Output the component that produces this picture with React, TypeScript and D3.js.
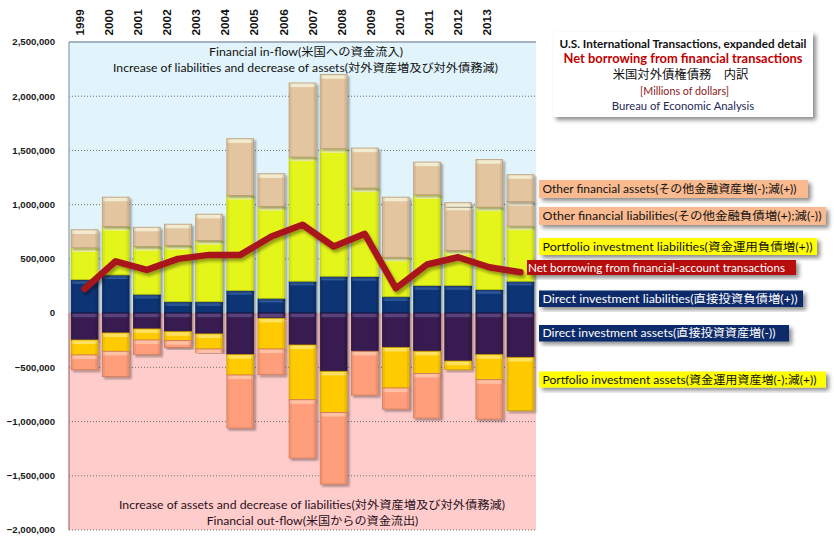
import React from "react";
import * as d3 from "d3";

const years = ["1999","2000","2001","2002","2003","2004","2005","2006","2007","2008","2009","2010","2011","2012","2013"];
// Millions of dollars
const directLiab = [309000,353000,174000,106000,106000,208000,137000,294000,340000,337000,152000,254000,254000,217000,294000];
const portfolioLiab = [293000,446000,440000,517000,563000,877000,846000,1145000,1176000,816000,363000,837000,323000,760000,508000];
const otherLiab = [166000,270000,178000,197000,243000,523000,302000,683000,683000,-404000,-194000,302000,409000,438000,225000];
const otherAssets = [-136000,-234000,-135000,-62000,-34000,-489000,-237000,-538000,-661000,369000,554000,-412000,32000,-363000,249000];
const directAssets = [-248000,-183000,-146000,-171000,-192000,-383000,-48000,-294000,-537000,-352000,-316000,-352000,-442000,-383000,-408000];
const portfolioAssets = [-138000,-169000,-102000,-83000,-139000,-188000,-283000,-505000,-379000,0,-375000,-204000,-80000,-231000,-492000];
const netBorrowing = [223000,478000,399000,500000,537000,537000,706000,815000,614000,731000,229000,448000,515000,423000,377000];
const yTicks = [2500000,2000000,1500000,1000000,500000,0,-500000,-1000000,-1500000,-2000000];

const W = 834, H = 546;
const L = 69, R = 536, T = 42, B = 530;

const COLORS: Record<string, [string, string, string]> = {
  navy: ["#0C3474", "#3566AE", "#08254F"],
  lime: ["#E4F51C", "#F6FBB8", "#B9C70F"],
  tan: ["#E3C5A0", "#F2EFD6", "#B89B78"],
  purple: ["#391E51", "#5E4780", "#261335"],
  gold: ["#FFCB00", "#FFE36A", "#C99F00"],
  salmon: ["#FF9E7A", "#FFC4A8", "#CC7A5C"],
};

const FONT = "Lato, 'Noto Sans CJK JP', sans-serif";

export default function App() {
  const x = d3.scaleBand<string>().domain(years).range([L, R]).paddingInner(0.14).paddingOuter(0.07);
  const xl = d3.scaleBand<string>().domain(years).range([65.5, 501]);
  const y = d3.scaleLinear().domain([-2000000, 2500000]).range([B, T]);

  type Seg = { year: string; y0: number; y1: number; color: string };
  const segs: Seg[] = [];
  years.forEach((yr, i) => {
    let pos = 0;
    const posList: [number, string][] = [
      [directLiab[i], "navy"], [portfolioLiab[i], "lime"], [otherLiab[i], "tan"], [otherAssets[i], "tan"],
      [portfolioAssets[i], "gold"], [directAssets[i], "purple"],
    ];
    posList.forEach(([v, c]) => {
      if (v > 0) { segs.push({ year: yr, y0: pos, y1: pos + v, color: c }); pos += v; }
    });
    let neg = 0;
    const negList: [number, string][] = [
      [directAssets[i], "purple"], [portfolioAssets[i], "gold"], [otherAssets[i], "salmon"], [otherLiab[i], "salmon"],
      [directLiab[i], "navy"], [portfolioLiab[i], "lime"],
    ];
    negList.forEach(([v, c]) => {
      if (v < 0) { segs.push({ year: yr, y0: neg, y1: neg + v, color: c }); neg += v; }
    });
  });

  const line = d3.line<number>().x((_, i) => (x(years[i]) as number) + x.bandwidth() / 2).y((v) => y(v));

  const legend = [
    { t: "Other financial assets(その他金融資産増(-);減(+))", bg: "#F9BA90", fg: "#111", x: 539, y: 180, w: 269, h: 18, tl: 254 },
    { t: "Other financial liabilities(その他金融負債増(+);減(-))", bg: "#F9BA90", fg: "#111", x: 539, y: 207, w: 287, h: 18, tl: 279 },
    { t: "Portfolio investment liabilities(資金運用負債増(+))", bg: "#FFFF00", fg: "#111", x: 539, y: 238, w: 278, h: 17, tl: 270 },
    { t: "Direct investment liabilities(直接投資負債増(+))", bg: "#0B2A6B", fg: "#fff", x: 539, y: 290.5, w: 264, h: 16.5, tl: 255 },
    { t: "Direct investment assets(直接投資資産増(-))", bg: "#0B2A6B", fg: "#fff", x: 539, y: 325, w: 250, h: 16.5, tl: 233 },
    { t: "Portfolio investment assets(資金運用資産増(-);減(+))", bg: "#FFFF00", fg: "#111", x: 539, y: 371.5, w: 287, h: 16, tl: 274 },
  ];

  const bw = x.bandwidth();

  return (
    <svg width={W} height={H} style={{ position: "absolute", left: 0, top: 0 }} fontFamily={FONT}>
      <defs>
        <filter id="sh" x="-20%" y="-20%" width="150%" height="150%">
          <feDropShadow dx="2" dy="2" stdDeviation="1.2" floodColor="#000" floodOpacity="0.35" />
        </filter>
        <filter id="shBox" x="-10%" y="-10%" width="130%" height="140%">
          <feDropShadow dx="3" dy="3" stdDeviation="2" floodColor="#000" floodOpacity="0.45" />
        </filter>
        <filter id="shLine" x="-10%" y="-10%" width="130%" height="140%">
          <feDropShadow dx="2" dy="3" stdDeviation="1.5" floodColor="#000" floodOpacity="0.35" />
        </filter>
      </defs>
      <rect x={0} y={0} width={W} height={H} fill="#fff" />
      {/* backgrounds */}
      <rect x={L} y={T} width={R - L} height={y(0) - T} fill="#E1F4FB" />
      <rect x={L} y={y(0)} width={R - L} height={B - y(0)} fill="#FFCCCC" />
      {/* grid */}
      {yTicks.filter((t) => t !== 0 && t !== 2500000).map((t) => (
        <line key={t} x1={L} x2={R} y1={y(t)} y2={y(t)} stroke="#707070" strokeWidth={1} strokeDasharray="1,2" />
      ))}
      <line x1={L} x2={R} y1={T} y2={T} stroke="#8C9BAE" strokeWidth={1.5} />
      <line x1={L} x2={L} y1={T} y2={y(0)} stroke="#8C9BAE" strokeWidth={1.2} />
      <line x1={L} x2={L} y1={y(0)} y2={B} stroke="#A07070" strokeWidth={1.2} />

      {/* in-plot annotations */}
      <text x={306} y={52.3} dy="0.35em" textAnchor="middle" fontSize={11.5} fill="#111" textLength={194} lengthAdjust="spacingAndGlyphs">Financial  in-flow(米国への資金流入)</text>
      <text x={305.5} y={68} dy="0.35em" textAnchor="middle" fontSize={11.5} fill="#111" textLength={385} lengthAdjust="spacingAndGlyphs">Increase of liabilities and decrease of assets(対外資産増及び対外債務減)</text>
      <text x={312} y={505} dy="0.35em" textAnchor="middle" fontSize={11.5} fill="#2A1020" textLength={386} lengthAdjust="spacingAndGlyphs">Increase of assets and decrease of liabilities(対外資産増及び対外債務減)</text>
      <text x={312.5} y={520.7} dy="0.35em" textAnchor="middle" fontSize={11.5} fill="#2A1020" textLength={211.6} lengthAdjust="spacingAndGlyphs">Financial  out-flow(米国からの資金流出)</text>

      {/* bars */}
      <g>
        {segs.map((s, k) => {
          const top = Math.min(y(s.y0), y(s.y1));
          const h = Math.abs(y(s.y0) - y(s.y1));
          const c = COLORS[s.color];
          const bx = x(s.year) as number;
          return (
            <g key={k}>
              <rect x={bx} y={top} width={bw} height={h} fill={c[0]} stroke={c[2]} strokeWidth={0.8} filter="url(#sh)" />
              <rect x={bx + 0.8} y={top + 0.6} width={bw - 1.6} height={Math.min(3.5, h)} fill={c[1]} opacity={0.9} />
              <rect x={bx + 0.5} y={top + 0.5} width={2} height={Math.max(0, h - 1)} fill={c[2]} opacity={0.25} />
              <rect x={bx + bw - 2.5} y={top + 0.5} width={2} height={Math.max(0, h - 1)} fill={c[2]} opacity={0.35} />
            </g>
          );
        })}
      </g>

      {/* net borrowing line */}
      <path d={line(netBorrowing) as string} fill="none" stroke="#A8121A" strokeWidth={6.5} strokeLinejoin="round" strokeLinecap="round" filter="url(#shLine)" />

      {/* y axis labels */}
      {yTicks.map((t) => (
        <text key={t} x={55} y={y(t)} dy="0.35em" textAnchor="end" fontSize={9.6} fontWeight="bold" fill="#1a1a1a" fontFamily="'Liberation Sans', Arial, sans-serif">
          {d3.format(",")(t)}
        </text>
      ))}

      {/* year labels */}
      {years.map((yr) => (
        <text key={yr} transform={`translate(${(xl(yr) as number) + xl.bandwidth() / 2},35.5) rotate(-90)`} dy="0.36em" fontSize={11.8} fontWeight="bold" fill="#111" fontFamily="'Liberation Sans', Arial, sans-serif">
          {yr}
        </text>
      ))}

      {/* net borrowing label */}
      <rect x={527} y={260} width={269} height={15} fill="#B70F0F" filter="url(#shBox)" />
      <text x={528} y={267.8} dy="0.35em" fontSize={11.5} fill="#fff" textLength={257} lengthAdjust="spacingAndGlyphs">Net borrowing  from financial-account  transactions</text>

      {/* legend boxes */}
      {legend.map((l) => (
        <g key={l.t}>
          <rect x={l.x} y={l.y} width={l.w} height={l.h} fill={l.bg} filter="url(#shBox)" />
          <text x={l.x + 3.5} y={l.y + l.h / 2} dy="0.36em" fontSize={11.5} fill={l.fg} textLength={l.tl} lengthAdjust="spacingAndGlyphs">{l.t}</text>
        </g>
      ))}

      {/* title box */}
      <rect x={553} y={32} width={260} height={85} fill="#fff" filter="url(#shBox)" />
      <text x={683} y={44} dy="0.35em" textAnchor="middle" fontSize={10.5} fontWeight="bold" fill="#111" textLength={247} lengthAdjust="spacingAndGlyphs">U.S. International  Transactions, expanded detail</text>
      <text x={683} y={58.5} dy="0.35em" textAnchor="middle" fontSize={13.5} fontWeight="bold" fill="#C00000" textLength={239} lengthAdjust="spacingAndGlyphs">Net borrowing from financial transactions</text>
      <text x={680.5} y={75} dy="0.35em" textAnchor="middle" fontSize={12} fill="#111" textLength={135.7} lengthAdjust="spacingAndGlyphs">米国対外債権債務　内訳</text>
      <text x={684.5} y={91} dy="0.35em" textAnchor="middle" fontSize={10.5} fill="#8B1A1A" textLength={89} lengthAdjust="spacingAndGlyphs">[Millions of dollars]</text>
      <text x={683} y={106} dy="0.35em" textAnchor="middle" fontSize={10.5} fill="#1F2A55" textLength={142.3} lengthAdjust="spacingAndGlyphs">Bureau of Economic Analysis</text>
    </svg>
  );
}
